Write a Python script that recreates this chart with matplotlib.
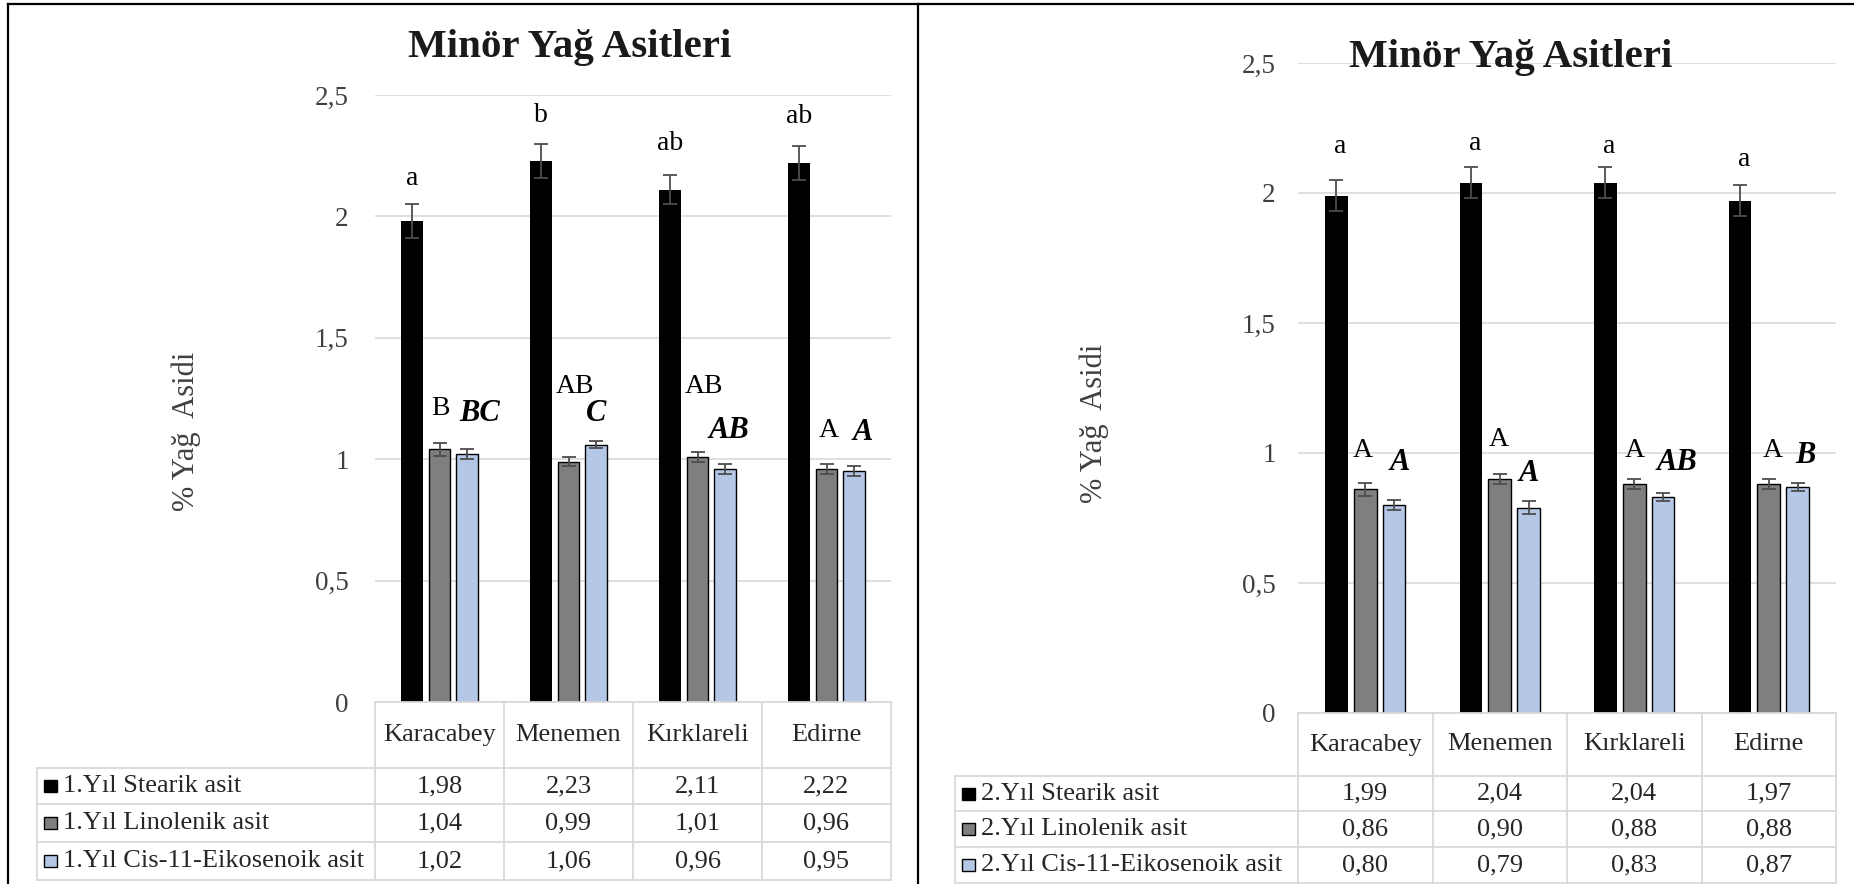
import numpy as np
import matplotlib

matplotlib.use("Agg")
import matplotlib.pyplot as plt
from matplotlib.lines import Line2D
from matplotlib.patches import Rectangle

plt.rcParams["font.family"] = ["Liberation Serif", "DejaVu Serif"]

# ---- data ----
sites = ["Karacabey", "Menemen", "Kırklareli", "Edirne"]
title = "Minör Yağ Asitleri"
ylabel = "% Yağ  Asidi"
yticks = [0, 0.5, 1, 1.5, 2, 2.5]
ytick_labels = ["0", "0,5", "1", "1,5", "2", "2,5"]

y1_names = ["1.Yıl Stearik asit", "1.Yıl Linolenik asit", "1.Yıl Cis-11-Eikosenoik asit"]
y1_stearik = [1.98, 2.23, 2.11, 2.22]
y1_linolenik = [1.04, 0.99, 1.01, 0.96]
y1_cis = [1.02, 1.06, 0.96, 0.95]
y1_stearik_err = [0.07, 0.07, 0.06, 0.07]
y1_linolenik_err = [0.025, 0.02, 0.02, 0.02]
y1_cis_err = [0.02, 0.015, 0.02, 0.02]
y1_lower = ["a", "b", "ab", "ab"]
y1_upper = ["B", "AB", "AB", "A"]
y1_italic = ["BC", "C", "AB", "A"]

y2_names = ["2.Yıl Stearik asit", "2.Yıl Linolenik asit", "2.Yıl Cis-11-Eikosenoik asit"]
y2_stearik = [1.99, 2.04, 2.04, 1.97]
y2_linolenik = [0.86, 0.90, 0.88, 0.88]
y2_cis = [0.80, 0.79, 0.83, 0.87]
y2_stearik_err = [0.06, 0.06, 0.06, 0.06]
y2_linolenik_err = [0.025, 0.02, 0.02, 0.02]
y2_cis_err = [0.02, 0.025, 0.015, 0.015]
y2_lower = ["a", "a", "a", "a"]
y2_upper = ["A", "A", "A", "A"]
y2_italic = ["A", "A", "AB", "B"]

COLORS = ["#000000", "#7f7f7f", "#b4c7e7"]
GRID = "#d9d9d9"
TXT = "#262626"

W, H = 1854, 884
fig = plt.figure(figsize=(W / 100, H / 100), dpi=100)


def fx(px):
    return px / W


def fy(py):
    return 1 - py / H


def panel(lay, names, series, errs, letters):
    ax = fig.add_axes([fx(lay["left"]), fy(lay["zero"]),
                       (lay["right"] - lay["left"]) / W, (lay["zero"] - lay["top"]) / H])
    x = np.arange(len(sites))
    width, step = 0.168, 0.214
    for k, (vals, err) in enumerate(zip(series, errs)):
        ec = "none" if k == 0 else "black"
        ax.bar(x + (k - 1) * step, vals, width, color=COLORS[k], edgecolor=ec,
               linewidth=1.0, zorder=3)
        ax.errorbar(x + (k - 1) * step, vals, yerr=err, fmt="none", ecolor="#4d4d4d",
                    elinewidth=1.3, capsize=5, capthick=1.3, zorder=4)
    ax.set_xlim(-0.5, len(sites) - 0.5)
    ax.set_ylim(0, 2.5)
    ax.set_yticks(yticks)
    ax.set_yticklabels(ytick_labels)
    ax.tick_params(axis="y", length=0, pad=lay["pad"], labelsize=19.5, labelcolor="#404040")
    ax.set_xticks([])
    ax.grid(axis="y", color=GRID, lw=1.2, zorder=0)
    for s in ax.spines.values():
        s.set_visible(False)

    # significance letters
    for k, (labs, ys, dxs, style) in enumerate(letters):
        for i, (lab, yy, dx) in enumerate(zip(labs, ys, dxs)):
            kw = dict(fontsize=20, color="black")
            if style == "bi":
                kw = dict(fontsize=22, fontweight="bold", fontstyle="italic", color="black")
            ax.text(i + (k - 1) * step + dx, yy, lab, ha="center", va="center", **kw)

    fig.text(fx(lay["title_x"]), fy(lay["title_y"]), title, ha="center", va="center",
             fontsize=29.5, fontweight="bold", color="#1a1a1a")
    fig.text(fx(lay["ylab_x"]), fy(lay["ylab_y"]), ylabel, ha="center", va="center",
             rotation=90, fontsize=22, color="#404040")

    # data table
    ncat = len(sites)
    cols = np.linspace(lay["left"], lay["right"], ncat + 1)
    rows = lay["rows"]
    lw = 1.3
    fig.add_artist(Line2D([fx(lay["left"]), fx(lay["right"])], [fy(lay["zero"])] * 2,
                          color=GRID, lw=lw))
    for r in rows[1:]:
        fig.add_artist(Line2D([fx(lay["tleft"]), fx(lay["right"])], [fy(r)] * 2,
                              color=GRID, lw=lw))
    for c in cols:
        fig.add_artist(Line2D([fx(c)] * 2, [fy(lay["zero"]), fy(rows[-1])], color=GRID, lw=lw))
    fig.add_artist(Line2D([fx(lay["tleft"])] * 2, [fy(rows[1]), fy(rows[-1])],
                          color=GRID, lw=lw))
    for i, name in enumerate(sites):
        fig.text(fx((cols[i] + cols[i + 1]) / 2), fy((lay["zero"] + rows[1]) / 2), name,
                 ha="center", va="center", fontsize=19, color=TXT)
    for k, (name, vals) in enumerate(zip(names, series)):
        yc = (rows[k + 1] + rows[k + 2]) / 2
        fig.add_artist(Rectangle((fx(lay["tleft"] + 7), fy(yc + 6)), 13 / W, 12 / H,
                                 facecolor=COLORS[k], edgecolor="black", lw=1.0))
        fig.text(fx(lay["tleft"] + 26), fy(yc), name, ha="left", va="center",
                 fontsize=19, color=TXT)
        for i, v in enumerate(vals):
            fig.text(fx((cols[i] + cols[i + 1]) / 2), fy(yc), f"{v:.2f}".replace(".", ","),
                     ha="center", va="center", fontsize=19, color=TXT)


left_layout = dict(left=375, right=891, top=95, zero=702, pad=19, tleft=37,
                   rows=[702, 768, 804, 842, 880], title_x=570, title_y=47,
                   ylab_x=186, ylab_y=431)
right_layout = dict(left=1298, right=1836, top=63, zero=713, pad=16, tleft=955,
                    rows=[713, 776, 811, 847, 883], title_x=1511, title_y=57,
                    ylab_x=1094, ylab_y=423)

panel(left_layout, y1_names, [y1_stearik, y1_linolenik, y1_cis],
      [y1_stearik_err, y1_linolenik_err, y1_cis_err],
      [(y1_lower, [2.155, 2.415, 2.30, 2.41], [0.0, 0.0, 0.0, 0.0], "r"),
       (y1_upper, [1.21, 1.30, 1.30, 1.12], [0.01, 0.05, 0.05, 0.02], "r"),
       (y1_italic, [1.19, 1.19, 1.12, 1.11], [0.1, 0.0, 0.03, 0.07], "bi")])
panel(right_layout, y2_names, [y2_stearik, y2_linolenik, y2_cis],
      [y2_stearik_err, y2_linolenik_err, y2_cis_err],
      [(y2_lower, [2.18, 2.19, 2.18, 2.13], [0.03, 0.03, 0.03, 0.03], "r"),
       (y2_upper, [1.01, 1.05, 1.01, 1.01], [-0.02, -0.01, 0.0, 0.03], "r"),
       (y2_italic, [0.965, 0.92, 0.965, 0.99], [0.04, 0.0, 0.1, 0.06], "bi")])

# outer frame
for xs, ys in [([8, W], [4, 4]), ([8, 8], [4, H]), ([918, 918], [4, H])]:
    fig.add_artist(Line2D([fx(v) for v in xs], [fy(v) for v in ys], color="black", lw=1.6))

fig.savefig("out.png", dpi=100)
